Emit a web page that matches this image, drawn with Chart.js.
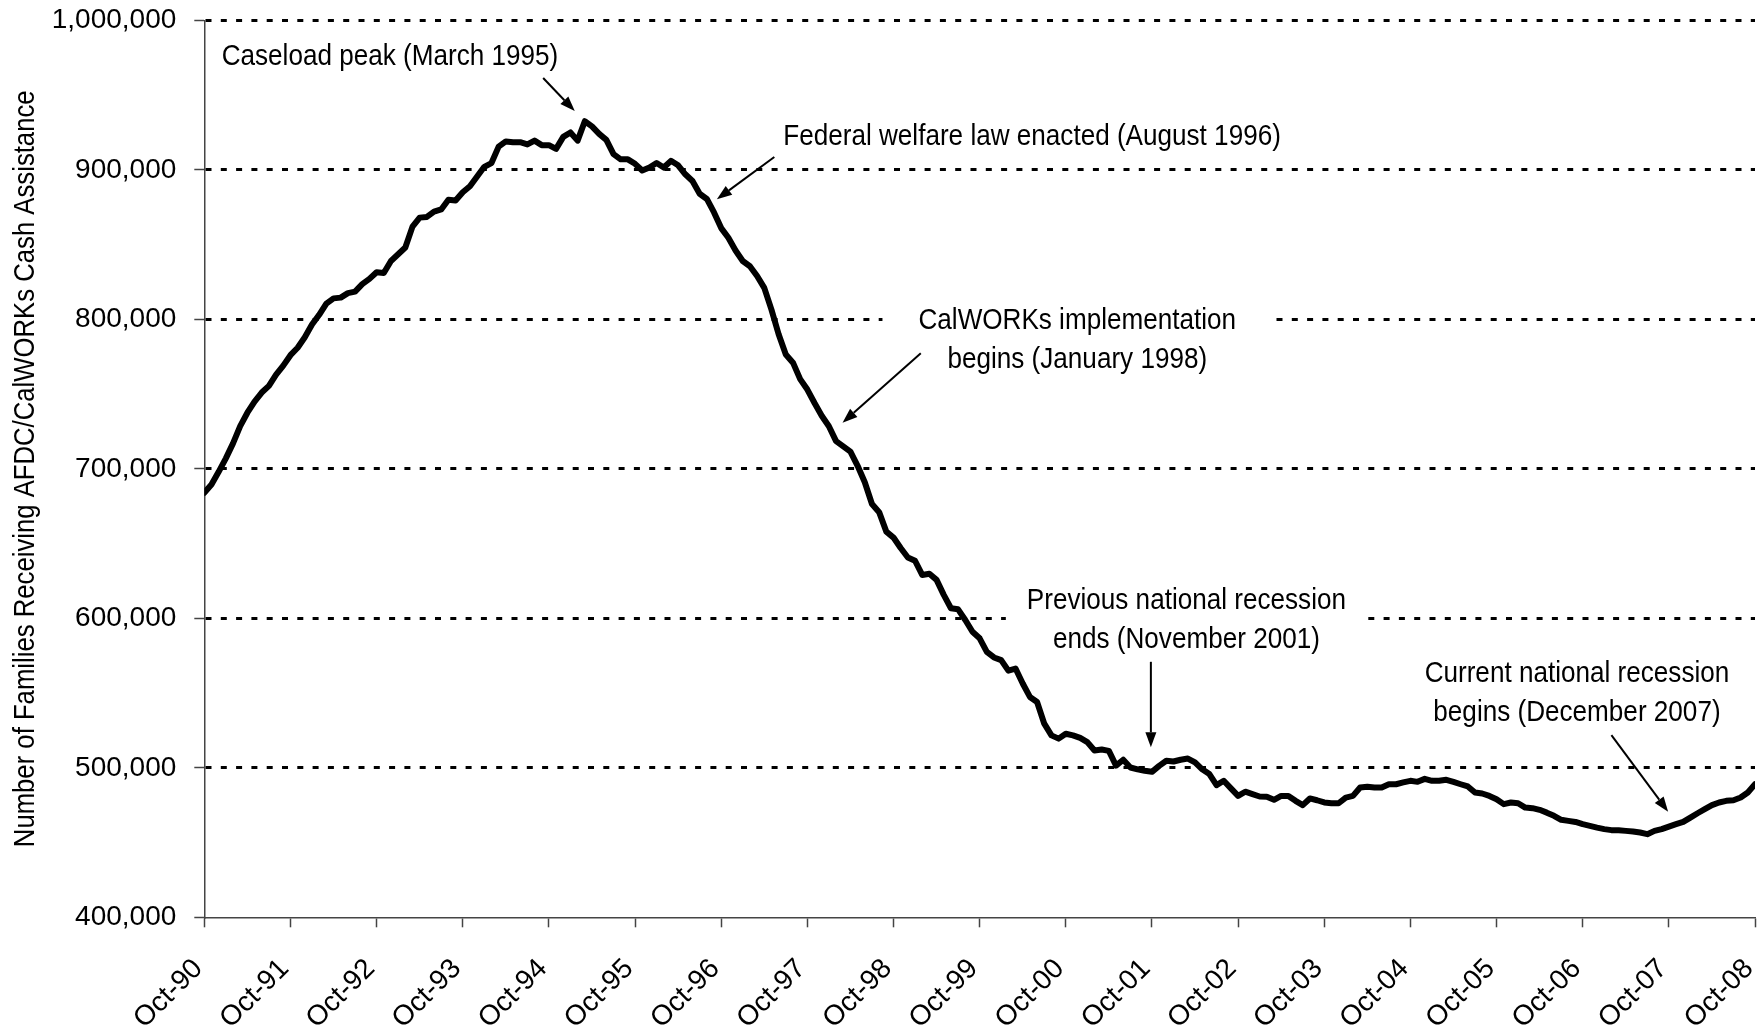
<!DOCTYPE html>
<html>
<head>
<meta charset="utf-8">
<script src="https://cdn.jsdelivr.net/npm/chart.js@4/dist/chart.umd.min.js"></script>
<style>
  html, body { margin: 0; padding: 0; background: #fff; }
  canvas { display: block; }
</style>
</head>
<body>
<canvas id="caseloadChart" width="1760" height="1029"></canvas>
<script>
// --- Data: monthly caseload, Oct-90 .. Oct-08 ---
const tickLabels = ['Oct-90', 'Oct-91', 'Oct-92', 'Oct-93', 'Oct-94', 'Oct-95', 'Oct-96', 'Oct-97', 'Oct-98', 'Oct-99',
                    'Oct-00', 'Oct-01', 'Oct-02', 'Oct-03', 'Oct-04', 'Oct-05', 'Oct-06', 'Oct-07', 'Oct-08'];

const caseload = [
  684000, 689500, 698000, 707000, 717000, 728500, 737500, 745000, 751000, 755500, 763000, 769000,   // Oct-90
  776000, 781000, 788000, 796500, 803000, 810500, 814000, 814500, 817500, 818500, 823500, 827000,   // Oct-91
  831500, 831000, 839000, 843500, 848000, 862000, 868000, 868500, 872000, 873500, 880000, 879500,   // Oct-92
  885000, 889000, 895500, 902000, 904500, 915500, 919000, 918500, 918500, 917000, 919500, 916500,   // Oct-93
  916500, 914000, 922000, 925000, 919500, 932500, 929000, 924000, 920000, 910500, 907000, 907000,   // Oct-94
  904000, 899500, 901500, 904500, 901500, 906000, 903000, 897000, 892500, 884000, 880500, 871500,   // Oct-95
  861000, 854500, 846000, 839000, 835500, 829000, 821000, 806500, 790000, 776500, 771000, 760000,   // Oct-96
  753000, 744000, 735500, 728500, 718500, 715000, 711500, 702000, 691000, 676500, 671000, 658000,   // Oct-97
  654000, 647000, 640700, 638500, 629000, 629800, 625700, 615700, 606700, 606000, 598900, 591000,   // Oct-98
  586600, 577600, 573800, 572000, 565000, 566400, 556400, 547400, 544000, 529500, 521700, 519500,   // Oct-99
  522800, 521700, 520000, 517200, 511600, 512200, 511300, 501500, 505400, 500200, 499000, 498000,   // Oct-00
  497300, 501300, 504700, 504200, 505400, 506200, 503600, 499000, 495800, 488400, 491300, 486200,   // Oct-01
  481200, 484000, 482400, 480800, 480600, 478600, 481200, 481200, 477900, 475000, 479500, 478300,   // Oct-02
  476800, 476300, 476300, 480100, 481200, 486800, 487300, 486800, 486800, 489000, 489000, 490200,   // Oct-03
  491300, 490600, 492600, 491300, 491300, 492000, 490600, 489000, 487500, 483500, 482800, 481200,   // Oct-04
  479000, 475700, 476800, 476300, 473400, 473000, 471900, 470000, 467900, 465200, 464500, 463800,   // Oct-05
  462300, 461200, 460000, 459000, 458300, 458300, 457800, 457400, 456700, 455600, 457800, 459000,   // Oct-06
  460700, 462300, 463800, 466700, 469600, 472300, 475000, 476800, 477900, 478300, 480100, 483500,   // Oct-07
  489000                                                                                              // Oct-08
];

const yAxisTitle = 'Number of Families Receiving AFDC/CalWORKs Cash Assistance';

// --- Annotations (positions in data units: month index, families) ---
const notes = [
  { lines: ['Caseload peak (March 1995)'], at: [25.86, 977000],
    arrow: [[47.2, 961400], [51.6, 939300]] },
  { lines: ['Federal welfare law enacted (August 1996)'], at: [115.3, 923500],
    arrow: [[79.4, 908600], [71.4, 880300]] },
  { lines: ['CalWORKs implementation', 'begins (January 1998)'], at: [121.6, 800800], padX: 36,
    arrow: [[99.8, 777300], [88.9, 730800]] },
  { lines: ['Previous national recession', 'ends (November 2001)'], at: [136.8, 613400], padX: 21,
    arrow: [[131.85, 570900], [131.85, 513700]] },
  { lines: ['Current national recession', 'begins (December 2007)'], at: [191.2, 564500],
    arrow: [[196.0, 521900], [203.9, 470600]] }
];

const NOTE_FONT = '29px "Liberation Sans", Arial, sans-serif';
const NOTE_SQUEEZE = 0.9;   // condensed look
const LINE_GAP = 39.5;

function drawArrow(ctx, x1, y1, x2, y2) {
  const ang = Math.atan2(y2 - y1, x2 - x1);
  const head = 15, half = 5.5;
  const bx = x2 - head * Math.cos(ang), by = y2 - head * Math.sin(ang);
  ctx.beginPath();
  ctx.moveTo(x1, y1);
  ctx.lineTo(bx, by);
  ctx.stroke();
  ctx.beginPath();
  ctx.moveTo(x2, y2);
  ctx.lineTo(bx + half * Math.sin(ang), by - half * Math.cos(ang));
  ctx.lineTo(bx - half * Math.sin(ang), by + half * Math.cos(ang));
  ctx.closePath();
  ctx.fill();
}

const notesPlugin = {
  id: 'notes',
  afterDraw(chart) {
    const { ctx, scales: { x, y }, chartArea } = chart;
    ctx.save();
    ctx.font = NOTE_FONT;
    ctx.fillStyle = '#000';
    ctx.strokeStyle = '#000';
    ctx.lineWidth = 2;
    ctx.textAlign = 'center';
    ctx.textBaseline = 'alphabetic';

    notes.forEach(n => {
      const cx = x.getPixelForValue(n.at[0]);
      const cy = y.getPixelForValue(n.at[1]);
      if (n.padX) {
        // white text box that breaks the gridline
        const w = Math.max(...n.lines.map(l => ctx.measureText(l).width)) * NOTE_SQUEEZE + 2 * n.padX;
        const h = (n.lines.length - 1) * LINE_GAP + 34;
        ctx.fillStyle = '#fff';
        ctx.fillRect(cx - w / 2, cy - 17, w, h);
        ctx.fillStyle = '#000';
      }
      n.lines.forEach((line, k) => {
        ctx.save();
        ctx.translate(cx, cy + k * LINE_GAP);
        ctx.scale(NOTE_SQUEEZE, 1);
        ctx.fillText(line, 0, 10.4);
        ctx.restore();
      });
      const [a, b] = n.arrow;
      drawArrow(ctx, x.getPixelForValue(a[0]), y.getPixelForValue(a[1]),
                     x.getPixelForValue(b[0]), y.getPixelForValue(b[1]));
    });

    // y axis title
    ctx.save();
    ctx.translate(23.6, (chartArea.top + chartArea.bottom) / 2);
    ctx.rotate(-Math.PI / 2);
    ctx.scale(0.886, 1);
    ctx.fillText(yAxisTitle, 0, 10.4);
    ctx.restore();

    ctx.restore();
  }
};

const tickFont = { family: '"Liberation Sans", Arial, sans-serif', size: 28 };

new Chart(document.getElementById('caseloadChart').getContext('2d'), {
  type: 'line',
  data: {
    datasets: [{
      data: caseload.map((v, i) => ({ x: i, y: v })),
      borderColor: '#000',
      borderWidth: 6,
      pointRadius: 0,
      tension: 0,
      borderJoinStyle: 'round',
      borderCapStyle: 'round'
    }]
  },
  options: {
    responsive: false,
    animation: false,
    devicePixelRatio: 1,
    events: [],
    layout: { padding: { top: 20.3, right: 5, left: 0, bottom: 0 } },
    plugins: { legend: { display: false }, tooltip: { enabled: false } },
    scales: {
      x: {
        type: 'linear',
        min: 0,
        max: caseload.length - 1,
        afterBuildTicks: s => { s.ticks = tickLabels.map((t, k) => ({ value: k * 12 })); },
        afterFit: s => {
          s.height = 111.7;
          s.paddingLeft = s.paddingRight = s.paddingTop = s.paddingBottom = 0;
        },
        ticks: {
          callback: (v, i) => tickLabels[i],
          autoSkip: false,
          minRotation: 45,
          maxRotation: 45,
          padding: 25,
          labelOffset: -6,
          font: tickFont,
          color: '#000'
        },
        grid: { drawOnChartArea: false, drawTicks: true, tickLength: 10, tickColor: '#444', tickWidth: 1.5 },
        border: { color: '#444', width: 1.5 }
      },
      y: {
        min: 400000,
        max: 1000000,
        afterFit: s => {
          s.width = 204.3;
          s.paddingLeft = s.paddingRight = s.paddingTop = s.paddingBottom = 0;
        },
        ticks: {
          stepSize: 100000,
          callback: v => v.toLocaleString('en-US'),
          padding: 18,
          font: tickFont,
          color: '#000'
        },
        grid: {
          color: c => (c.tick && c.tick.value === 400000) ? 'rgba(0,0,0,0)' : '#000',
          lineWidth: 3,
          tickLength: 10,
          tickColor: '#444',
          tickWidth: 1.5
        },
        border: { color: '#444', width: 1.5, dash: [6, 9.3] }
      }
    }
  },
  plugins: [notesPlugin]
});
</script>
</body>
</html>
